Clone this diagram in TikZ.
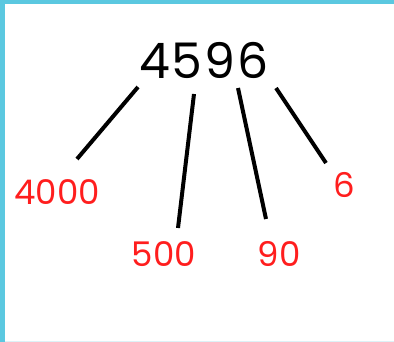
\documentclass[tikz,border=0pt]{standalone}
\usepackage{fontspec}
\setmainfont{Poppins}
\definecolor{frame}{HTML}{5BC8E0}
\definecolor{pale}{HTML}{DDF2F7}
\definecolor{digitred}{HTML}{FF1E1E}
\tikzset{
  partlabel/.style={text=digitred, inner sep=0pt, font=\fontsize{34}{34}\selectfont},
  stick/.style={line width=4pt, black},
}
\begin{document}
\begin{tikzpicture}[x=1pt,y=-1pt]
\useasboundingbox (0,0) rectangle (394,342);
\fill[white] (0,0) rectangle (394,342);
\fill[frame] (0,0) rectangle (394,4.5);
\fill[frame] (0,0) rectangle (4.5,342);
\fill[pale] (4.5,340.5) rectangle (394,342);
\node[inner sep=0pt, font=\fontsize{49}{49}\selectfont] (num) at (204,60) {4\kern2pt5\kern2pt9\kern2pt6};
\node[partlabel] (th) at (57,192) {4000};
\node[partlabel] (hu) at (164,254) {500};
\node[partlabel] (te) at (279,254) {90};
\node[partlabel] (on) at (344,185) {6};
\coordinate (a1) at (138,87);  \coordinate (b1) at (77,159);
\coordinate (a2) at (194,94);  \coordinate (b2) at (178,228);
\coordinate (a3) at (238,88);  \coordinate (b3) at (266,219);
\coordinate (a4) at (276,88);  \coordinate (b4) at (326,163);
\draw[stick] (a1) -- (b1);
\draw[stick] (a2) -- (b2);
\draw[stick] (a3) -- (b3);
\draw[stick] (a4) -- (b4);
\end{tikzpicture}
\end{document}
